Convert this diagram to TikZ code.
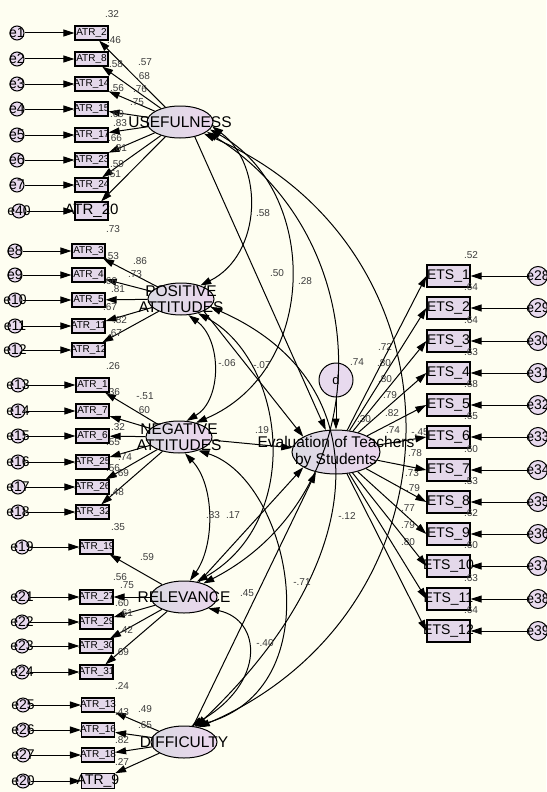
\documentclass[tikz,border=0pt]{standalone}
\usepackage{fontspec}
\setmainfont{Liberation Sans}
\usetikzlibrary{shapes.geometric,arrows.meta}
\definecolor{bg}{RGB}{254,254,241}
\definecolor{latL}{RGB}{218,218,226}
\definecolor{latR}{RGB}{236,214,238}
\definecolor{obsfill}{RGB}{228,216,234}
\definecolor{errfill}{RGB}{232,218,238}
\definecolor{labc}{RGB}{60,60,60}
\newcommand\myfs[1]{\fontsize{#1}{#1}\selectfont}
\begin{document}
\begin{tikzpicture}[x=1pt,y=-1pt,
  lat/.style={ellipse,draw=black,line width=1pt,left color=latL,right color=latR,minimum width=66pt,minimum height=32pt,inner sep=0pt},
  obs/.style={rectangle,draw=black,line width=1.2pt,fill=obsfill,minimum width=33pt,minimum height=14pt,inner sep=0pt},
  ets/.style={rectangle,draw=black,line width=1.3pt,fill=obsfill,minimum width=43pt,minimum height=22pt,inner sep=0pt},
  err/.style={circle,draw=black,line width=1pt,fill=errfill,minimum size=14pt,inner sep=0pt},
  errR/.style={circle,draw=black,line width=1pt,fill=errfill,minimum size=19pt,inner sep=0pt},
  latt/.style={font=\myfs{15.5},inner sep=0pt,align=center},
  atrt/.style={font=\myfs{10},inner sep=0pt},
  bigt/.style={font=\myfs{15},inner sep=0pt},
  etst/.style={font=\myfs{14},inner sep=0pt},
  errt/.style={font=\myfs{14},inner sep=0pt},
  lab/.style={font=\myfs{10},text=labc,inner sep=0pt},
  arr/.style={line width=1pt,arrows={-Triangle[length=11pt,width=7pt]}},
  cov/.style={line width=1pt,arrows={Triangle[length=11pt,width=7pt]-Triangle[length=11pt,width=7pt]}}
]
\fill[bg] (0,0) rectangle (546,792);
\useasboundingbox (0,0) rectangle (546,792);

% latent variables
\node[lat,label={[latt]center:USEFULNESS}] (USE) at (180,122) {};
\node[lat,label={[latt]center:POSITIVE\\[1pt]ATTITUDES}] (POS) at (181,299) {};
\node[lat,label={[latt]center:NEGATIVE\\[1pt]ATTITUDES}] (NEG) at (179,437) {};
\node[lat,label={[latt]center:RELEVANCE}] (REL) at (184,597) {};
\node[lat,label={[latt]center:DIFFICULTY}] (DIF) at (184,742) {};
\node[lat,minimum width=88pt,minimum height=44pt,label={[latt]center:Evaluation of Teachers\\[1pt]by Students}] (Eval) at (336,452) {};
\node[circle,draw=black,line width=1pt,fill=errfill,minimum size=34pt,inner sep=0pt,label={[font=\myfs{13},inner sep=0pt]center:d}] (d) at (336,380) {};

% USEFULNESS indicators
\foreach \n/\y/\t/\e in {u1/33/ATR\_2/e1,u2/59/ATR\_8/e2,u3/84/ATR\_14/e3,u4/109/ATR\_15/e4,u5/135/ATR\_17/e5,u6/160/ATR\_23/e6,u7/185/ATR\_24/e7}{
  \node[obs,label={[atrt]center:\t}] (\n) at (91.5,\y) {};
  \node[err,label={[errt]center:\e}] (e-\n) at (17,\y) {};
  \draw[arr] (e-\n) -- (\n);
  \draw[arr] (USE) -- (\n);
}
\node[obs,minimum height=18pt,label={[bigt]center:ATR\_20}] (u8) at (91.5,211) {};
\node[err,label={[errt]center:e40}] (e-u8) at (19,211) {};
\draw[arr] (e-u8) -- (u8);
\draw[arr] (USE) -- (u8);

% POSITIVE indicators
\foreach \n/\y/\t/\e in {p1/251/ATR\_3/e8,p2/275/ATR\_4/e9,p3/300/ATR\_5/e10,p4/326/ATR\_11/e11,p5/350/ATR\_12/e12}{
  \node[obs,label={[atrt]center:\t}] (\n) at (88.5,\y) {};
  \node[err,label={[errt]center:\e}] (e-\n) at (15,\y) {};
  \draw[arr] (e-\n) -- (\n);
  \draw[arr] (POS) -- (\n);
}

% NEGATIVE indicators
\foreach \n/\y/\t/\e in {n1/385/ATR\_1/e13,n2/411/ATR\_7/e14,n3/436/ATR\_6/e15,n4/462/ATR\_25/e16,n5/487/ATR\_26/e17,n6/512/ATR\_32/e18}{
  \node[obs,label={[atrt]center:\t}] (\n) at (92.5,\y) {};
  \node[err,label={[errt]center:\e}] (e-\n) at (18,\y) {};
  \draw[arr] (e-\n) -- (\n);
  \draw[arr] (NEG) -- (\n);
}

% RELEVANCE indicators
\foreach \n/\y/\t/\e in {r1/547/ATR\_19/e19,r2/597/ATR\_27/e21,r3/622/ATR\_29/e22,r4/646/ATR\_30/e23,r5/672/ATR\_31/e24}{
  \node[obs,label={[atrt]center:\t}] (\n) at (96.5,\y) {};
  \node[err,label={[errt]center:\e}] (e-\n) at (22,\y) {};
  \draw[arr] (e-\n) -- (\n);
  \draw[arr] (REL) -- (\n);
}

% DIFFICULTY indicators
\foreach \n/\y/\t/\e in {f1/705/ATR\_13/e25,f2/730/ATR\_16/e26,f3/755/ATR\_18/e27}{
  \node[obs,label={[atrt]center:\t}] (\n) at (98,\y) {};
  \node[err,label={[errt]center:\e}] (e-\n) at (23,\y) {};
  \draw[arr] (e-\n) -- (\n);
  \draw[arr] (DIF) -- (\n);
}
\node[obs,minimum height=15pt,label={[font=\myfs{14},inner sep=0pt]center:ATR\_9}] (f4) at (98,781) {};
\node[err,label={[errt]center:e20}] (e-f4) at (23,781) {};
\draw[arr] (e-f4) -- (f4);
\draw[arr] (DIF) -- (f4);

% correlations
\draw[cov] (USE.-8) .. controls (265,165) and (262,255) .. (POS.35);
\draw[cov] (USE.-14) .. controls (320,190) and (320,370) .. (NEG.40);
\draw[cov] (USE.-20) .. controls (380,240) and (380,493) .. (REL.35);
\draw[cov] (USE.-26) .. controls (471,250) and (471,609) .. (DIF.45);
\draw[cov] (POS.-65) .. controls (222,340) and (222,400) .. (NEG.65);
\draw[cov] (POS.-40) .. controls (285,360) and (305,520) .. (REL.50);
\draw[cov] (POS.-15) .. controls (377,380) and (377,555) .. (DIF.52);
\draw[cov] (NEG.-70) .. controls (215,485) and (215,545) .. (REL.70);
\draw[cov] (NEG.-35) .. controls (290,480) and (335,690) .. (DIF.58);
\draw[cov] (REL.-25) .. controls (262,620) and (266,683) .. (DIF.65);

% structural paths
\draw[arr] (USE.-45) -- (Eval.115);
\draw[arr] (POS.-28) -- (Eval.155);
\draw[arr] (NEG) -- (Eval);
\draw[arr] (REL.45) -- (Eval.205);
\draw[arr] (DIF.60) -- (Eval.225);
\draw[arr] (d) -- (Eval);

% structural labels
\foreach \x/\y/\t in {263/213/.58,277/273/.50,305/281/.28,227/363/-.06,262/365/-.07,262/430/.19,364/419/.30,357/362/.74,213/515/.33,233/515/.17,347/516/-.12,247/593/.45,302/582/-.71,265/643/-.40,420/432/-.45,
385/347/.72,384/363/.80,385/379/.80,390/395/.79,392/413/.82,393/430/.74,415/453/.78,412/473/.73,413/488/.79,408/508/.77,408/525/.79,408/542/.80}{
  \node[lab] (L-\x-\y) at (\x,\y) {\t};
}

% left labels
\foreach \x/\y/\t in {112/14/.32,114/40/.46,116/64/.58,145/62/.57,143/76/.68,140/89/.76,137/102/.75,117/88/.56,117/114/.69,120/123/.83,115/138/.66,120/148/.81,117/164/.59,114/174/.51,
113/229/.73,140/261/.86,135/274/.73,112/256/.53,118/289/.81,110/281/.66,110/307/.67,120/320/.82,115/333/.67,
113/366/.26,145/396/-.51,113/392/.36,143/410/.60,118/427/.32,113/442/.55,125/457/.74,113/468/.56,122/473/.69,117/492/.48,
118/527/.35,147/557/.59,120/577/.56,127/585/.75,122/603/.60,126/613/.61,126/630/.42,122/652/.69,122/686/.24,
145/709/.49,122/712/.43,145/725/.65,122/740/.82,122/762/.27}{
  \node[lab] (M-\x-\y) at (\x,\y) {\t};
}

% ETS indicators
\foreach \k/\y/\r in {1/276/.52,2/308/.64,3/341/.64,4/373/.63,5/405/.68,6/437/.65,7/470/.60,8/502/.53,9/534/.62,10/566/.60,11/599/.63,12/631/.64}{
  \pgfmathtruncatemacro\en{27+\k}
  \node[ets,label={[etst]center:ETS\_\k}] (ETS\k) at (448.5,\y) {};
  \node[errR,label={[errt]center:e\en}] (eR\k) at (538,\y) {};
  \draw[arr] (eR\k) -- (ETS\k);
  \draw[arr] (Eval) -- (ETS\k.west);
  \node[lab] (R2-\k) at (471,\y-21) {\r};
}
\end{tikzpicture}
\end{document}
